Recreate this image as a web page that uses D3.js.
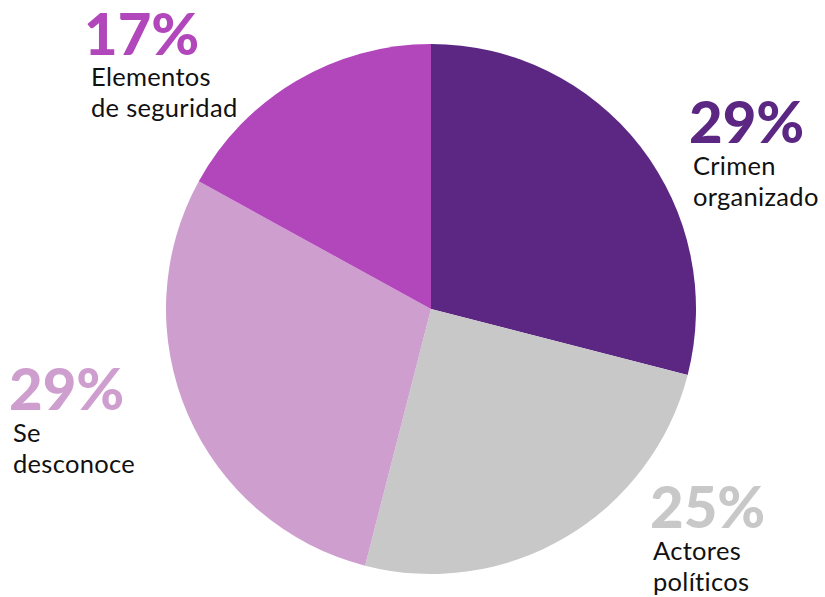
<!DOCTYPE html>
<html><head><meta charset="utf-8">
<script src="https://cdn.jsdelivr.net/npm/d3@7"></script>
<style>body{margin:0;background:#fff}svg{display:block}</style>
</head><body>
<script>
const categories = ["Crimen organizado", "Actores políticos", "Se desconoce", "Elementos de seguridad"];
const values = [29, 25, 29, 17];
const colors = ["#5c2783", "#c8c8c8", "#ce9ecf", "#b246bb"];
const labelLines = [["Crimen", "organizado"], ["Actores", "políticos"], ["Se", "desconoce"], ["Elementos", "de seguridad"]];
const pctPos = [[689, 143], [650, 528], [9, 410], [84, 55]];
const labelPos = [[693, 175], [653, 560], [13, 442], [91, 86]];

const W = 825, H = 597;
const svg = d3.select("body").append("svg").attr("width", W).attr("height", H);
const cx = 431, cy = 309, r = 265;
const data = categories.map((c, i) => ({c, v: values[i], i}));
const pie = d3.pie().value(d => d.v).sort(null);
const arc = d3.arc().innerRadius(0).outerRadius(r);
const g = svg.append("g").attr("transform", `translate(${cx},${cy})`);
g.selectAll("path").data(pie(data)).join("path")
  .attr("d", arc).attr("fill", d => colors[d.data.i]);

data.forEach((d, i) => {
  const [x, y] = pctPos[i];
  svg.append("text").attr("x", x).attr("y", y)
    .attr("font-family", "Lato").attr("font-weight", 900).attr("font-size", 58)
    .attr("fill", colors[i]).text(d.v + "%");
  const [lx, ly] = labelPos[i];
  labelLines[i].forEach((l, j) => {
    svg.append("text").attr("x", lx).attr("y", ly + j * 30.5)
      .attr("font-family", "Lato").attr("font-size", 25.5).attr("letter-spacing", 0.3)
      .attr("fill", "#111").text(l);
  });
});
</script>
</body></html>
